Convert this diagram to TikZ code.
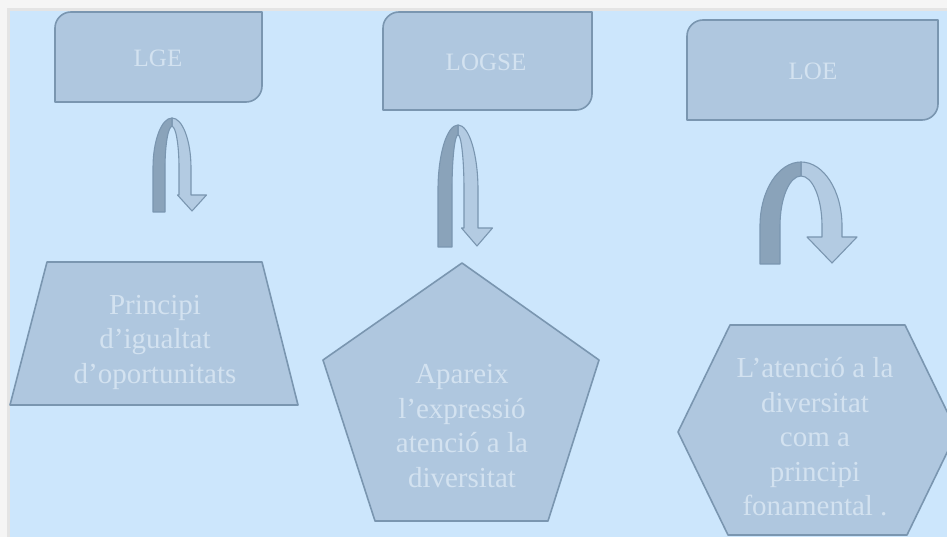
\documentclass[tikz,border=0pt]{standalone}
\usepackage{fontspec}
\setmainfont{Liberation Serif}
\definecolor{outer}{HTML}{F5F5F5}
\definecolor{shadow}{HTML}{E4E4E4}
\definecolor{bgblue}{HTML}{CCE6FC}
\definecolor{shapefill}{HTML}{AFC7DF}
\definecolor{shapeline}{HTML}{7A96B0}
\definecolor{txtcol}{HTML}{D3E2F0}
\definecolor{arrdarkc}{HTML}{8AA3BA}
\definecolor{arrlightc}{HTML}{B3CBE2}
\newcommand\uturn[9]{%
 \pgfmathsetmacro\cx{(#1+#2)/2}%
 \pgfmathsetmacro\ao{(#2-#1)/2}%
 \pgfmathsetmacro\ai{\ao-#3}%
 \pgfmathsetmacro\bo{#5-#4}%
 \pgfmathsetmacro\bi{\bo-0.7*#3}%
 \pgfmathsetmacro\ti{#5-\bi}%
 \pgfmathsetmacro\Li{#1+#3}%
 \pgfmathsetmacro\Ri{#2-#3}%
 \filldraw[arrlight] (\cx,#4) .. controls (\cx+0.552*\ao,#4) and (#2,#5-0.552*\bo) .. (#2,#5) -- (#2,#7) -- (#8+#9,#7) -- (#8,#6-1) -- (#8-#9,#7) -- (\Ri,#7) -- (\Ri,#5) .. controls (\Ri,#5-0.552*\bi) and (\cx+0.552*\ai,\ti) .. (\cx,\ti) -- cycle;
 \filldraw[arrdark] (#1,#6) -- (#1,#5) .. controls (#1,#5-0.552*\bo) and (\cx-0.552*\ao,#4) .. (\cx,#4) -- (\cx,\ti) .. controls (\cx-0.552*\ai,\ti) and (\Li,#5-0.552*\bi) .. (\Li,#5) -- (\Li,#6) -- cycle;
}
\begin{document}
\begin{tikzpicture}[x=1pt,y=-1pt,
  shapebox/.style={fill=shapefill,draw=shapeline,line width=1.6pt,line join=round},
  arrdark/.style={fill=arrdarkc,draw=shapeline,line width=1.1pt,line join=round},
  arrlight/.style={fill=arrlightc,draw=shapeline,line width=1.1pt,line join=round},
  lbl/.style={text=txtcol,inner sep=0pt,font=\fontsize{25}{30}\selectfont},
  body/.style={text=txtcol,align=center,inner sep=0pt,font=\fontsize{29}{34.5}\selectfont}]
\useasboundingbox (0,0) rectangle (947,537);
\clip (0,0) rectangle (947,537);
\fill[outer] (0,0) rectangle (947,537);
\fill[shadow] (7,8) rectangle (947,537);
\fill[bgblue] (10,11) rectangle (947,537);
% top boxes
\draw[shapebox] (55,102) -- (55,28) .. controls (55,19.2) and (62.2,12) .. (71,12) -- (262,12) -- (262,86) .. controls (262,94.8) and (254.8,102) .. (246,102) -- cycle;
\draw[shapebox] (383,110) -- (383,28) .. controls (383,19.2) and (390.2,12) .. (399,12) -- (592,12) -- (592,94) .. controls (592,102.8) and (584.8,110) .. (576,110) -- cycle;
\draw[shapebox] (687,120) -- (687,36) .. controls (687,27.2) and (694.2,20) .. (703,20) -- (938,20) -- (938,104) .. controls (938,112.8) and (930.8,120) .. (922,120) -- cycle;
\node[lbl] (lge) at (158,58) {LGE};
\node[lbl] (logse) at (486,62) {LOGSE};
\node[lbl] (loe) at (813,71) {LOE};
% u-turn arrows
\uturn{153}{191}{12}{118}{168}{212}{195}{192}{14.5}
\uturn{438}{478}{14}{125}{190}{247}{228}{477}{15.5}
\uturn{760}{842}{20}{162}{226}{264}{237}{832}{25}
% bottom shapes
\draw[shapebox] (47,262) -- (262,262) -- (298,405) -- (10,405) -- cycle;
\draw[shapebox] (462,263) -- (599,360) -- (548,521) -- (375,521) -- (323,360) -- cycle;
\draw[shapebox] (730,325) -- (905,325) -- (957,432) -- (907,535) -- (728,535) -- (678,432) -- cycle;
\node[body] (t1) at (155,342) {Principi\\d'igualtat\\d'oportunitats};
\node[body] (t2) at (462,426) {Apareix\\l'expressió\\atenció a la\\diversitat};
\node[body] (t3) at (815,437) {L'atenció a la\\diversitat\\com a\\principi\\fonamental .};
\end{tikzpicture}
\end{document}
